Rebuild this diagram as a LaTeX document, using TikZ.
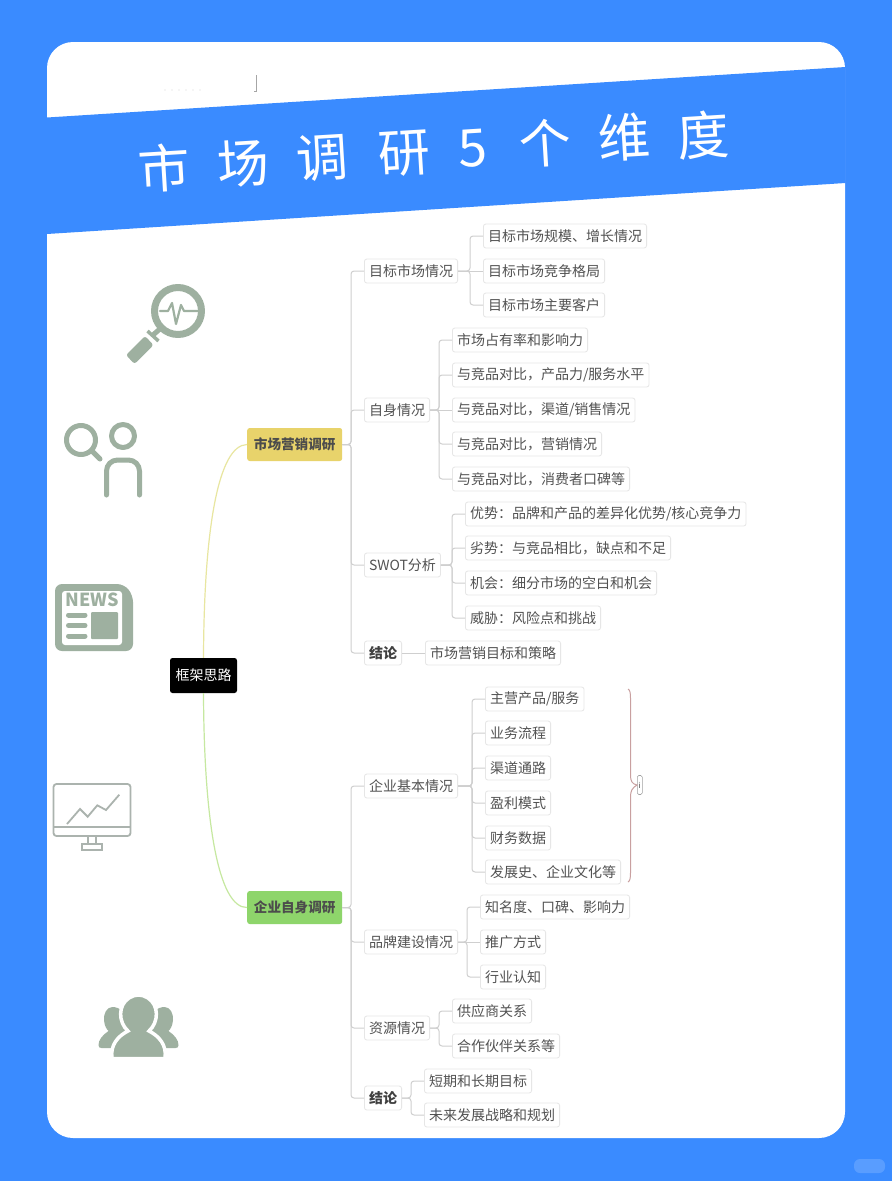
\documentclass[tikz,border=0pt]{standalone}
\usepackage{fontspec}
\setmainfont{Noto Sans CJK SC}
\newfontfamily\titlefont{Noto Sans CJK SC}
\definecolor{bluebg}{HTML}{3A8BFF}
\definecolor{icon}{HTML}{9EB0A0}
\definecolor{monitor}{HTML}{ABB3AE}
\definecolor{txt}{HTML}{525252}
\definecolor{edge}{HTML}{CFCFCF}
\definecolor{boxline}{HTML}{E6E6E6}
\definecolor{topicy}{HTML}{E8D36B}
\definecolor{topicg}{HTML}{8ED56B}
\definecolor{cy}{HTML}{E8E6A0}
\definecolor{cg}{HTML}{C6E8A0}
\definecolor{brace}{HTML}{C9A0A0}
\tikzset{
  x=1pt,y=-1pt,
  item/.style={draw=boxline,line width=0.8pt,fill=white,rounded corners=2.5pt,font=\fontsize{14}{16}\selectfont,text=txt,
    inner xsep=4.6pt,inner ysep=0pt,minimum height=24pt,anchor=west},
  bolditem/.style={item,text=black!75,font=\fontsize{14}{16}\selectfont\bfseries},
  topic/.style={rounded corners=2.5pt,font=\fontsize{13.6}{16}\selectfont\bfseries,text=black!70,inner sep=0pt,minimum width=95pt,minimum height=33pt,anchor=west},
  link/.style={draw=edge,line width=1pt,rounded corners=3pt},
  flat/.style={draw=edge,line width=1pt},
  iconline/.style={draw=icon,line cap=round,line join=round},
}
\newcommand\lk[2]{\draw[link] (#1.east) -| ([xshift=-13pt]#2.west) -- (#2.west);}
\begin{document}
\begin{tikzpicture}
\useasboundingbox (0,0) rectangle (892,1181);
\fill[bluebg] (0,0) rectangle (892,1181);
\fill[white,rounded corners=26pt] (47,42) rectangle (845,1138);
\fill[bluebg] (47,117.5) -- (845.5,67) -- (845.5,183) -- (47,234) -- cycle;
\draw[black!35,line width=0.5pt] (256.5,75) -- (256.5,91.5) -- (254,91.5);
\foreach \mx in {165,172,179,186,193,200}{\fill[black!8] (\mx,90) circle (0.8);}
\fill[white,opacity=.16,rounded corners=6pt] (854,1159) rectangle (885,1173);
% title
\foreach \tx/\ty/\tc in {164/168/市,243/163/场,322/158/调,404/154/研,473/148/5,545/143/个,624/137/维,703/135/度}{
  \node[text=white,font=\titlefont\fontsize{52}{56}\selectfont,rotate=3.5,inner sep=0pt] (t\tx) at (\tx,\ty) {\tc};
}
% icons
\draw[iconline,line width=7pt] (178,311) circle (23.5);
\draw[iconline,line width=2.2pt] (160,311) -- (168,311) -- (172,303) -- (176,324) -- (181,305) -- (184,311) -- (198,311);
\draw[icon,line width=5pt] (153,335) -- (161,328);
\draw[icon,line width=3.5pt] (147.5,331) -- (158.5,341);
\fill[icon,rounded corners=2.5pt] (126,355) -- (145,336) -- (153.5,345) -- (134.5,364) -- cycle;
\draw[iconline,line width=5pt] (81,440) circle (14.5);
\draw[iconline,line width=5pt] (92,451) -- (100,459);
\draw[iconline,line width=5pt] (123,436) circle (11.5);
\draw[iconline,line width=5pt,rounded corners=11pt] (106.5,495) -- (106.5,460) -- (139.5,460) -- (139.5,495);
\fill[icon,rounded corners=7pt] (55,584) -- (124,584) -- (133,595) -- (133,651) -- (55,651) -- cycle;
\fill[white,rounded corners=3pt] (62,591) rectangle (122,645);
\node[text=icon,font=\fontsize{18}{18}\selectfont\bfseries,inner sep=0pt] (news) at (92,600) {NEWS};
\foreach \by in {615,625.5,636}{\draw[icon,line width=5pt,line cap=round] (68.5,\by) -- (85,\by);}
\fill[icon,rounded corners=1pt] (91,612) rectangle (118,639);
\begin{scope}[draw=monitor,line width=1.8pt]
\draw[rounded corners=3pt] (53.5,784) rectangle (130.5,836);
\draw (53.5,827) -- (130.5,827);
\draw (67,824) -- (80,809) -- (87.7,816.7) -- (97.3,805.3) -- (106,810) -- (119.3,794.7);
\draw (88,836) -- (88,844) (96,836) -- (96,844);
\draw (82,844) rectangle (102,850);
\end{scope}
\foreach \sx in {-1,1}{
 \begin{scope}[shift={(138.5,0)},xscale=\sx]
  \fill[icon] (15,1012) .. controls (19,1008) and (23,1007) .. (26,1007) .. controls (32,1007) and (35,1014) .. (34.5,1020) .. controls (34,1026) and (32,1029) .. (30,1031) .. controls (36,1035) and (40,1040) .. (40,1045) .. controls (40,1047) and (39,1048) .. (37,1048) -- (20,1048) -- (5,1025) -- cycle;
 \end{scope}
}
\fill[icon,draw=white,line width=3.5pt] (112,1058.5) .. controls (110,1045) and (118,1036) .. (128,1031) .. controls (118,1022) and (118,1005) .. (129,998) .. controls (135,994) and (142,994) .. (148,998) .. controls (159,1005) and (159,1022) .. (149,1031) .. controls (159,1036) and (167,1045) .. (165,1058.5) -- cycle;
% mind map nodes
\node[fill=black,text=white,rounded corners=2.5pt,font=\fontsize{14}{16}\selectfont,inner sep=0pt,minimum width=67pt,minimum height=35pt] (root) at (203.5,675.5) {框架思路};
\node[topic,fill=topicy] (m) at (247,444.5) {市场营销调研};
\node[topic,fill=topicg] (e) at (247,907.5) {企业自身调研};
\draw[cy,line width=1.2pt] (root.north) .. controls (204,530) and (218,445) .. (m.west);
\draw[cg,line width=1.2pt] (root.south) .. controls (204,820) and (218,908) .. (e.west);

\node[item] (a) at (364,271) {目标市场情况};
\node[item] (a1) at (483,236) {目标市场规模、增长情况};
\node[item] (a2) at (483,271) {目标市场竞争格局};
\node[item] (a3) at (483,305) {目标市场主要客户};
\node[item] (b) at (364,410) {自身情况};
\node[item] (b1) at (452,340) {市场占有率和影响力};
\node[item] (b2) at (452,375) {与竞品对比，产品力/服务水平};
\node[item] (b3) at (452,410) {与竞品对比，渠道/销售情况};
\node[item] (b4) at (452,444) {与竞品对比，营销情况};
\node[item] (b5) at (452,479) {与竞品对比，消费者口碑等};
\node[item] (c) at (364,565) {SWOT分析};
\node[item] (c1) at (465,514) {优势：品牌和产品的差异化优势/核心竞争力};
\node[item] (c2) at (465,548) {劣势：与竞品相比，缺点和不足};
\node[item] (c3) at (465,583) {机会：细分市场的空白和机会};
\node[item] (c4) at (465,618) {威胁：风险点和挑战};
\node[bolditem] (d) at (364,653) {结论};
\node[item] (d1) at (425,653) {市场营销目标和策略};

\node[item] (f) at (364,786) {企业基本情况};
\node[item] (f1) at (485,699) {主营产品/服务};
\node[item] (f2) at (485,733) {业务流程};
\node[item] (f3) at (485,768) {渠道通路};
\node[item] (f4) at (485,803) {盈利模式};
\node[item] (f5) at (485,838) {财务数据};
\node[item] (f6) at (485,872) {发展史、企业文化等};
\node[item] (g) at (364,942) {品牌建设情况};
\node[item] (g1) at (480,907) {知名度、口碑、影响力};
\node[item] (g2) at (480,942) {推广方式};
\node[item] (g3) at (480,977) {行业认知};
\node[item] (h) at (364,1028) {资源情况};
\node[item] (h1) at (452,1011) {供应商关系};
\node[item] (h2) at (452,1046) {合作伙伴关系等};
\node[bolditem] (i) at (364,1098) {结论};
\node[item] (i1) at (424,1081) {短期和长期目标};
\node[item] (i2) at (424,1115) {未来发展战略和规划};

\foreach \p/\c in {m/a,m/b,m/c,m/d,a/a1,a/a3,b/b1,b/b2,b/b4,b/b5,c/c1,c/c2,c/c3,c/c4,
                   e/f,e/g,e/h,e/i,f/f1,f/f2,f/f3,f/f4,f/f5,f/f6,g/g1,g/g3,h/h1,h/h2,i/i1,i/i2}{
  \lk{\p}{\c}
}
\foreach \p/\c in {a/a2,b/b3,d/d1,g/g2}{\draw[flat] (\p.east) -- (\c.west);}
% brace
\node[draw=boxline!70!black,line width=0.6pt,rounded corners=1.5pt,fill=white,text=txt,font=\fontsize{8}{8}\selectfont,inner sep=0pt,minimum width=5pt,minimum height=19pt,anchor=west] (note) at (637,785) {i};
\coordinate (bt) at (628,689);
\coordinate (bb) at (628,882);
\draw[brace,line width=1pt] (bt) .. controls (630,690) and (630.5,693) .. (630.5,698) -- (630.5,775) .. controls (630.5,781) and (632,784) .. (note.west) .. controls (632,788) and (630.5,791) .. (630.5,797) -- (630.5,873) .. controls (630.5,878) and (630,881) .. (bb);
\end{tikzpicture}
\end{document}
